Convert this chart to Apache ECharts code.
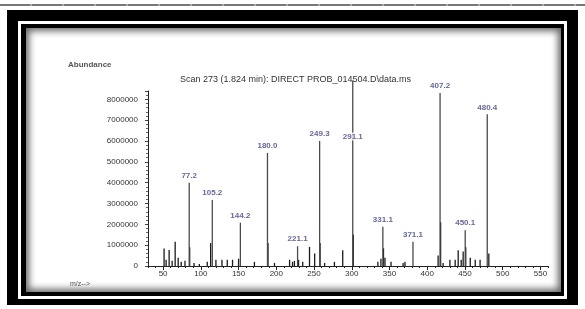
<!DOCTYPE html>
<html>
<head>
<meta charset="utf-8">
<script src="https://cdn.jsdelivr.net/npm/echarts@6/dist/echarts.min.js"></script>
<style>
  html, body { margin: 0; padding: 0; background: #fff; }
  #page { position: relative; width: 585px; height: 309px; overflow: hidden; }
  .topline { position: absolute; left: 0; top: 4px; width: 585px; height: 2px;
    background: repeating-linear-gradient(90deg, #777 0 30px, #aaa 30px 32px); }
  .outer { position: absolute; left: 7px; top: 10px; width: 571px; height: 295px; background: #000; }
  .wline { position: absolute; left: 18px; top: 21px; width: 549px; height: 278px; background: #fff; }
  .inner { position: absolute; left: 21px; top: 24px; width: 543px; height: 272px; background: #000; }
  .panel { position: absolute; left: 26px; top: 28px; width: 535px; height: 264px; background: #fff;
    box-shadow: inset 0 0 7px 3px #666; }
  #main { position: absolute; left: 0; top: 0; width: 585px; height: 309px; }
</style>
</head>
<body>
<div id="page">
  <div class="topline"></div>
  <div class="outer"></div>
  <div class="wline"></div>
  <div class="inner"></div>
  <div class="panel"></div>
  <div id="main"></div>
</div>
<script>
// labelled peaks: position on the m/z axis, abundance, printed label
let peakMz = [84.6, 115.2, 152.4, 188.3, 228.2, 257.4, 301.3, 341.2, 381.1, 417.0, 450.3, 479.5];
let peakAbund = [4000000, 3170000, 2080000, 5430000, 950000, 6000000, 8900000, 1880000, 1160000, 8300000, 1720000, 7280000];
let peakLabels = ['77.2', '105.2', '144.2', '180.0', '221.1', '249.3', '291.1', '331.1', '371.1', '407.2', '450.1', '480.4'];
// where the label sits (291.1 is printed halfway down its line)
let labelAbund = [4000000, 3170000, 2080000, 5430000, 950000, 6000000, 5880000, 1880000, 1160000, 8300000, 1720000, 7280000];

// smaller unlabelled peaks
let minorMz = [51.3, 54, 58, 62, 66, 70, 74, 79, 85.2, 91, 98, 108.5, 113, 120, 128, 135, 142, 150,
  171, 189, 197.6, 217.6, 221.5, 224, 229.5, 235, 244, 250.8, 258, 264, 277, 288, 302,
  334.6, 338.6, 342, 344, 352, 368, 370.5, 414.4, 417.7, 421, 430, 437, 441, 445, 447.6, 451,
  457, 463.6, 470, 481.6];
let minorAbund = [840000, 300000, 770000, 250000, 1160000, 400000, 200000, 250000, 900000, 150000, 100000, 200000, 1100000, 300000, 300000, 300000, 300000, 350000,
  200000, 1100000, 150000, 300000, 200000, 250000, 300000, 200000, 920000, 600000, 1100000, 150000, 200000, 760000, 1500000,
  200000, 350000, 850000, 400000, 200000, 150000, 200000, 500000, 2100000, 150000, 300000, 300000, 760000, 300000, 700000, 900000,
  400000, 300000, 300000, 600000];

let xTickLabels = [50, 100, 150, 200, 250, 300, 350, 400, 450, 500, 550];

let chart = echarts.init(document.getElementById('main'), null, {renderer: 'canvas'});

let peakData = peakMz.map(function (mz, i) {
  return [mz, peakAbund[i]];
});
let minorData = minorMz.map(function (mz, i) {
  return [mz, minorAbund[i]];
});
let labelData = peakMz.map(function (mz, i) {
  return [mz, labelAbund[i], peakLabels[i]];
});

let option = {
  backgroundColor: 'transparent',
  animation: false,
  title: {
    text: 'Scan 273 (1.824 min): DIRECT PROB_014504.D\\data.ms',
    left: 175,
    top: 70,
    textStyle: {fontSize: 9, fontWeight: 'normal', color: '#333', fontFamily: 'Liberation Sans'}
  },
  graphic: [
    {type: 'text', left: 68, top: 61, style: {text: 'Abundance', fontSize: 8, fontWeight: 'bold', fill: '#555', fontFamily: 'Liberation Sans'}},
    {type: 'text', left: 70, top: 281, style: {text: 'm/z-->', fontSize: 7, fill: '#555', fontFamily: 'Liberation Sans'}}
  ],
  grid: {left: 148, right: 37, top: 91, bottom: 43, containLabel: false},
  xAxis: [
    {
      type: 'value', min: 30, max: 560, interval: 10,
      axisLine: {lineStyle: {color: '#222', width: 1}},
      axisTick: {length: 2, lineStyle: {color: '#222'}},
      splitLine: {show: false},
      axisLabel: {
        margin: 4, fontSize: 8, color: '#333', fontFamily: 'Liberation Sans',
        formatter: function (v) { return xTickLabels.indexOf(v) >= 0 ? v : ''; }
      }
    },
    {
      type: 'value', min: 30, max: 560, position: 'bottom',
      axisLine: {show: false},
      axisTick: {show: true, length: 4, customValues: xTickLabels, lineStyle: {color: '#222'}},
      axisLabel: {show: false},
      splitLine: {show: false}
    }
  ],
  yAxis: {
    type: 'value', min: 0, max: 8400000, interval: 1000000,
    axisLine: {show: true, lineStyle: {color: '#222', width: 1}},
    axisTick: {show: true, length: 3, lineStyle: {color: '#444'}},
    minorTick: {show: true, splitNumber: 5, length: 2, lineStyle: {color: '#666'}},
    splitLine: {show: false},
    axisLabel: {
      margin: 10, fontSize: 8, color: '#333', fontFamily: 'Liberation Sans',
      formatter: function (v) { return v % 1000000 === 0 ? v : ''; }
    }
  },
  series: [
    {
      type: 'bar', data: minorData, barWidth: 1.3, barGap: '-100%', clip: false,
      itemStyle: {color: '#1a1a1a'}
    },
    {
      type: 'bar', data: peakData, barWidth: 1.3, barGap: '-100%', clip: false,
      itemStyle: {color: '#4a4a4a'}
    },
    {
      type: 'scatter', data: labelData, symbolSize: 0, clip: false,
      label: {
        show: true, position: 'top', distance: 3,
        formatter: function (p) { return p.data[2]; },
        fontSize: 8, fontWeight: 'bold', color: '#3d4183', fontFamily: 'Liberation Sans',
        backgroundColor: '#fff', padding: [0, 1]
      }
    }
  ]
};

chart.setOption(option);
</script>
</body>
</html>
